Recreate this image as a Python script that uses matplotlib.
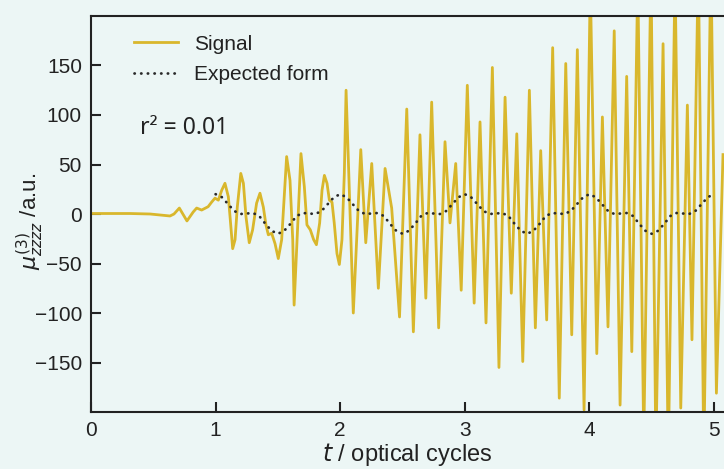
import numpy as np
import matplotlib.pyplot as plt

# third-order response along zzzz, time in optical cycles
sig_t = [0.000, 0.313, 0.474, 0.554, 0.634, 0.666, 0.709, 0.770, 0.820, 0.848,
         0.888, 0.940, 0.968, 0.995, 1.022, 1.049, 1.075, 1.102, 1.116, 1.137,
         1.156, 1.174, 1.202, 1.223, 1.244, 1.270, 1.297, 1.329, 1.356, 1.383,
         1.404, 1.423, 1.450, 1.477, 1.503, 1.530, 1.549, 1.570, 1.597, 1.619,
         1.630, 1.685, 1.712, 1.733, 1.760, 1.787, 1.809, 1.835, 1.854, 1.873,
         1.894, 1.913, 1.934, 1.952, 1.974, 1.993, 2.014, 2.033, 2.047,
         2.105, 2.165, 2.205, 2.253, 2.306, 2.360, 2.413, 2.476,
         2.534, 2.587, 2.640, 2.687, 2.734, 2.790, 2.841, 2.881, 2.927, 2.971,
         3.020, 3.075, 3.122, 3.170, 3.221, 3.274, 3.323, 3.373, 3.417, 3.465,
         3.518, 3.566, 3.609, 3.657, 3.705, 3.758, 3.810, 3.858, 3.903, 3.957,
         4.007, 4.059, 4.104, 4.149, 4.199, 4.246, 4.299, 4.340, 4.388, 4.436,
         4.494, 4.533, 4.591, 4.633, 4.687, 4.733, 4.786, 4.823, 4.874, 4.918,
         4.975, 5.019, 5.072]
sig_y = [0.5, 0.5, 0, -1, -2, 0, 6, -7, 2, 6,
         4, 7.4, 12, 16, 14, 24, 31, 17.5, -3, -35,
         -26, 7, 41, 31, -3, -29, -16, 11, 21, 7,
         -11, -21, -19.5, -30, -45, -26, 14, 58, 34, -26,
         -92, 61, 27.6, -11, -16, -26, -31, -9, 24, 39,
         31, 14, 12, -9, -40, -51, -26, 41, 125,
         -100, 65, -29, 51, -75, 46, 6, -104,
         106, -119, 80, -85, 113, -115, 73, -9, 51, -77,
         130, -90, 93, -110, 148, -155, 118, -80, 81, -149,
         125, -115, 64, -107, 168, -186, 152, -122, 166, -198,
         235, -141, 98, -114, 185, -193, 139, -139, 240, -230,
         250, -240, 172, -250, 245, -196, 110, -127, 255, -245,
         260, -181, 60]

# expected form, sampled every 0.05 cycles from t=1 to t=5
exp_t = np.linspace(1, 5, 81)
exp_y = [20, 17, 10, 3, 0, 0.5, 1, -2, -10, -17,
         -20, -17, -10, -2, 1, 0.5, 0, 3, 10, 17,
         20, 17, 10, 3, 0, 0.5, 1, -2, -10, -17,
         -20, -17, -10, -2, 1, 0.5, 0, 3, 10, 17,
         20, 17, 10, 3, 0, 0.5, 1, -2, -10, -17,
         -20, -17, -10, -2, 1, 0.5, 0, 3, 10, 17,
         20, 17, 10, 3, 0, 0.5, 1, -2, -10, -17,
         -20, -17, -10, -2, 1, 0.5, 0, 3, 10, 17,
         20]

r2 = 0.01
yticks = [-150, -100, -50, 0, 50, 100, 150]
xticks = [0, 1, 2, 3, 4, 5]

bg = '#ecf6f5'
ink = '#222222'
gold = '#d9b72c'

plt.rcParams['font.family'] = ['Liberation Sans', 'DejaVu Sans']
plt.rcParams['mathtext.fontset'] = 'dejavusans'

fig = plt.figure(figsize=(7.24, 4.69), dpi=100, facecolor=bg)
ax = fig.add_axes([0.1257, 0.1215, 0.8743, 0.8444], facecolor=bg)

ax.plot(sig_t, sig_y, color=gold, lw=2.0, solid_joinstyle='round', label='Signal')
ax.plot(exp_t, exp_y, color='#2a2a2a', lw=2.0, linestyle=(0, (0.1, 2.3)),
        dash_capstyle='round', label='Expected form')

ax.set_xlim(0, 5.08)
ax.set_ylim(-200, 200)
ax.set_xticks(xticks)
ax.set_yticks(yticks)
ax.tick_params(direction='in', length=7, width=1.5, labelsize=15,
               colors=ink, pad=6.5)

for s in ['left', 'bottom', 'top']:
    ax.spines[s].set_linewidth(1.5)
    ax.spines[s].set_color(ink)
ax.spines['right'].set_visible(False)

ax.set_xlabel('$t$ / optical cycles', fontsize=17, color=ink, labelpad=0.5)
ax.set_ylabel(r'$\mu^{(3)}_{zzzz}$ /a.u.', fontsize=16, color=ink)
ax.yaxis.set_label_coords(-0.071, 0.48)

leg = ax.legend(loc='upper left', frameon=False, fontsize=15,
                handlelength=2.1, handletextpad=0.8, labelspacing=0.55,
                borderaxespad=0.3, bbox_to_anchor=(0.045, 0.99))
for txt in leg.get_texts():
    txt.set_color(ink)

ax.text(0.077, 0.717, 'r² = %.2f' % r2, transform=ax.transAxes,
        fontsize=16.5, family=['Noto Sans', 'DejaVu Sans'], color=ink,
        va='center', ha='left')

fig.savefig('out.png', dpi=100, facecolor=bg)
